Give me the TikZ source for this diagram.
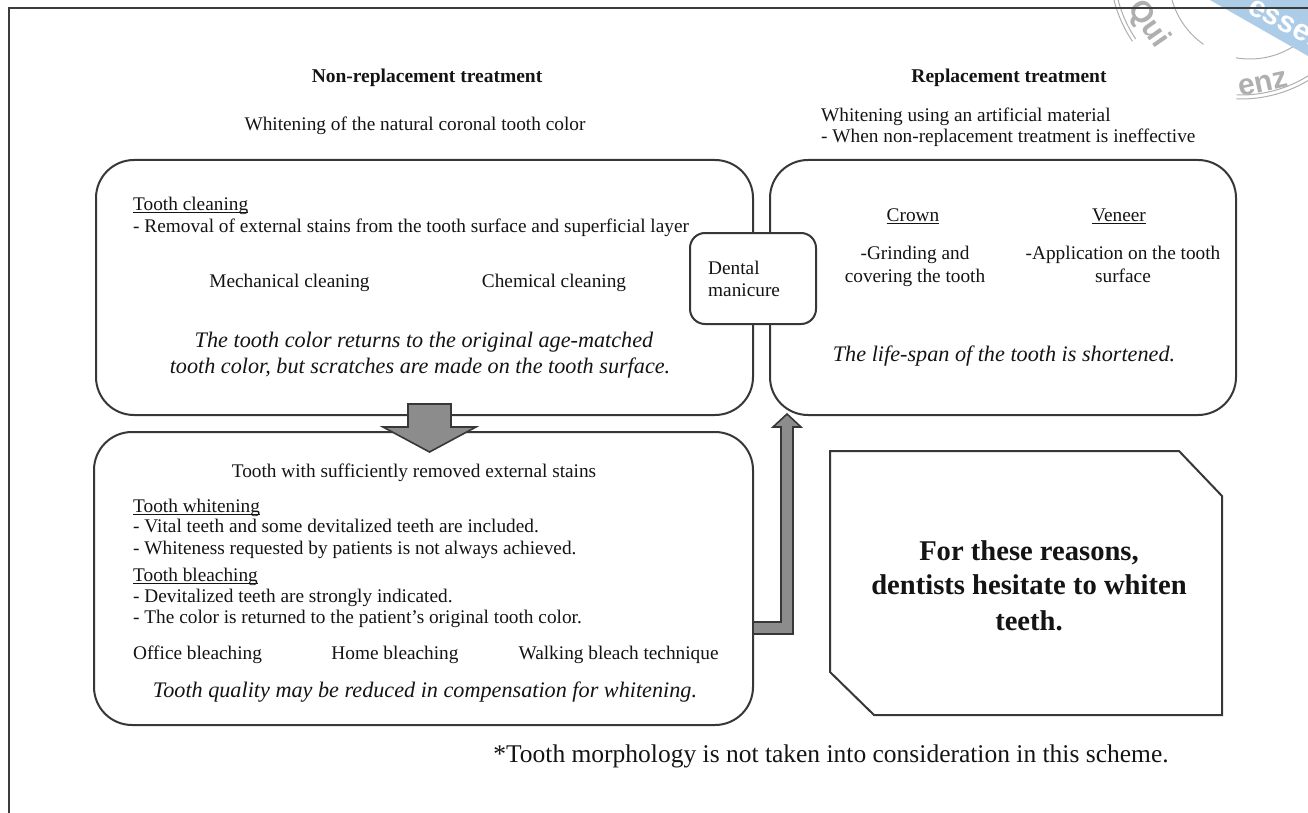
\documentclass[tikz,border=0pt]{standalone}
\usepackage{fontspec}
\setmainfont{Liberation Serif}
\newfontfamily\wmfont{Liberation Sans}
\newcommand\uln[1]{\setbox0=\hbox{#1}\rlap{\rule[-2.8pt]{\wd0}{0.9pt}}\box0}
\definecolor{lc}{RGB}{55,55,55}
\definecolor{fc}{RGB}{60,60,60}
\definecolor{arrowfill}{RGB}{140,140,140}
\definecolor{wmgray}{RGB}{175,175,175}
\definecolor{wmblue}{RGB}{172,204,231}
\definecolor{txc}{RGB}{20,20,20}
\tikzset{
  box/.style={draw=lc, line width=2pt, rounded corners=38pt, fill=white, inner sep=0pt},
  smallbox/.style={draw=lc, line width=2pt, rounded corners=15pt, fill=white, inner sep=0pt},
  body/.style={inner sep=0pt, text=txc, font=\fontsize{19.3}{23}\selectfont},
  ttl/.style={inner sep=0pt, text=txc, font=\fontsize{19.5}{23}\selectfont\bfseries},
  ital/.style={inner sep=0pt, text=txc, font=\fontsize{22.2}{26}\selectfont\itshape},
  big/.style={inner sep=0pt, text=txc, font=\fontsize{28.6}{34}\selectfont\bfseries},
  foot/.style={inner sep=0pt, text=txc, font=\fontsize{25.5}{30}\selectfont},
  blockarrow/.style={fill=arrowfill, draw=lc, line width=1.6pt, line join=miter},
  wmline/.style={draw=wmgray, line width=1pt},
  wmtext/.style={inner sep=0pt, text=wmgray, font=\fontsize{30}{34}\selectfont\wmfont\bfseries},
}
\begin{document}
\begin{tikzpicture}[x=1pt,y=-1pt]
\useasboundingbox (0,0) rectangle (1308,813);
% ---- watermark (top right corner)
\begin{scope}
\clip (0,0) rectangle (1308,813);
\draw[wmline] plot[domain=146:190, samples=40] ({1241+127*cos(\x)}, {-32+127*sin(\x)});
\draw[wmline] plot[domain=146:190, samples=40] ({1241+131*cos(\x)}, {-32+131*sin(\x)});
\draw[wmline] plot[domain=55:92, samples=40] ({1241+127*cos(\x)}, {-32+127*sin(\x)});
\draw[wmline] plot[domain=55:92, samples=40] ({1241+131*cos(\x)}, {-32+131*sin(\x)});
\draw[wmline] plot[domain=125:172, samples=40] ({1250+81*cos(\x)}, {-22+81*sin(\x)});
\draw[wmline] plot[domain=35:100, samples=40] ({1250+81*cos(\x)}, {-22+81*sin(\x)});
\node[wmtext, rotate=-55] (wq) at (1148,24) {Qui};
\node[wmtext, rotate=12] (wenz) at (1263,84) {enz};
\fill[wmblue] (1210,0) -- (1308,0) -- (1308,56) -- cycle;
\node[wmtext, text=white, anchor=base west, rotate=-28] (wsen) at (1246,12) {essen};
\end{scope}
% ---- frame
\coordinate (fa) at (9,813);
\coordinate (fb) at (9,8.5);
\coordinate (fc) at (1308,8.5);
\draw[fc, line width=2pt] (fa) -- (fb) -- (fc);
% ---- boxes
\node[box, minimum width=657pt, minimum height=255pt] (tl) at (424.5,287.5) {};
\node[box, minimum width=466pt, minimum height=255pt] (tr) at (1003,287.5) {};
\node[box, minimum width=659pt, minimum height=293pt] (bl) at (423.5,578.5) {};
\node[smallbox, minimum width=126pt, minimum height=91pt] (dm) at (753,278.5) {};
\draw[lc, line width=2pt, fill=white, line join=miter]
  (830,451) coordinate (rb) -- (1179,451) -- (1222,496) -- (1222,715) -- (874,715) -- (830,672) -- cycle;
% ---- block arrows
\draw[blockarrow] (408,404) -- (451,404) -- (451,427) -- (476,427) -- (429.5,452) -- (383,427) -- (408,427) -- cycle;
\draw[blockarrow] (753,622) -- (781,622) -- (781,427) -- (773,427) -- (787,414) -- (801,427) -- (793,427) -- (793,634) -- (753,634) -- cycle;
% ---- headings
\node[ttl, anchor=base] (h1) at (427,83) {Non-replacement treatment};
\node[body, anchor=base] (h1s) at (415,131) {Whitening of the natural coronal tooth color};
\node[ttl, anchor=base] (h2) at (1009,83) {Replacement treatment};
\node[body, anchor=base west] (h2a) at (821,122) {Whitening using an artificial material};
\node[body, anchor=base west] (h2b) at (821,143) {- When non-replacement treatment is ineffective};
% ---- top-left box text
\node[body, anchor=base west] (tc) at (133,210) {\uln{Tooth cleaning}};
\node[body, anchor=base west] (tc1) at (133,232) {- Removal of external stains from the tooth surface and superficial layer};
\node[body, anchor=base] (mc) at (289.5,287) {Mechanical cleaning};
\node[body, anchor=base] (cc) at (554,287) {Chemical cleaning};
\node[ital, anchor=base] (it1) at (424,347) {The tooth color returns to the original age-matched};
\node[ital, anchor=base] (it2) at (420,373) {tooth color, but scratches are made on the tooth surface.};
% ---- dental manicure
\node[body, anchor=base west] (dm1) at (708,274) {Dental};
\node[body, anchor=base west] (dm2) at (708,296) {manicure};
% ---- top-right box text
\node[body, anchor=base] (cr) at (913,221) {\uln{Crown}};
\node[body, anchor=base] (vn) at (1119,221) {\uln{Veneer}};
\node[body, anchor=base] (cr1) at (915,259) {-Grinding and};
\node[body, anchor=base] (cr2) at (915,282) {covering the tooth};
\node[body, anchor=base] (vn1) at (1123,259) {-Application on the tooth};
\node[body, anchor=base] (vn2) at (1123,282) {surface};
\node[ital, anchor=base] (ls) at (1004,361) {The life-span of the tooth is shortened.};
% ---- bottom-left box text
\node[body, anchor=base] (ts) at (414,477) {Tooth with sufficiently removed external stains};
\node[body, anchor=base west] (tw) at (133,512) {\uln{Tooth whitening}};
\node[body, anchor=base west] (tw1) at (133,532) {- Vital teeth and some devitalized teeth are included.};
\node[body, anchor=base west] (tw2) at (133,554) {- Whiteness requested by patients is not always achieved.};
\node[body, anchor=base west] (tb) at (133,581) {\uln{Tooth bleaching}};
\node[body, anchor=base west] (tb1) at (133,602) {- Devitalized teeth are strongly indicated.};
\node[body, anchor=base west] (tb2) at (133,623) {- The color is returned to the patient’s original tooth color.};
\node[body, anchor=base west] (ob) at (133,659) {Office bleaching};
\node[body, anchor=base] (hb) at (395,659) {Home bleaching};
\node[body, anchor=base] (wb) at (618.6,659) {Walking bleach technique};
\node[ital, anchor=base] (tq) at (425,697) {Tooth quality may be reduced in compensation for whitening.};
% ---- chamfered box text
\node[big, anchor=base] (r1) at (1029,560) {For these reasons,};
\node[big, anchor=base] (r2) at (1029,594) {dentists hesitate to whiten};
\node[big, anchor=base] (r3) at (1029,630) {teeth.};
% ---- footnote
\node[foot, anchor=base] (fn) at (831,762) {*Tooth morphology is not taken into consideration in this scheme.};
\end{tikzpicture}
\end{document}
